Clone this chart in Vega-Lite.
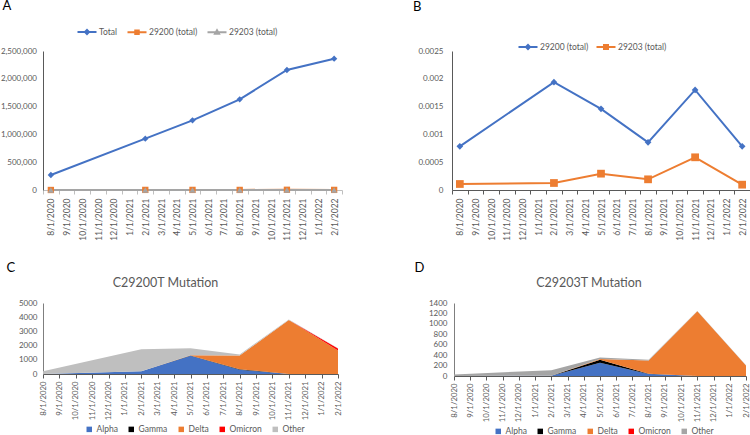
{
  "$schema": "https://vega.github.io/schema/vega-lite/v6.json",
  "padding": 0,
  "background": "white",
  "config": {
    "font": "Lato",
    "view": {"stroke": null},
    "axis": {"labelFont": "Lato", "labelFontSize": 8, "labelColor": "#595959", "domainColor": "#7f7f7f", "tickColor": "#7f7f7f", "grid": false, "title": null, "labelOverlap": false},
    "legend": {"labelFont": "Lato", "labelFontSize": 8.5, "labelColor": "#595959"},
    "title": {"font": "Lato", "fontWeight": "normal"}
  },
  "datasets": {
    "a": [
      {"d": "8/1/2020", "s": "Total", "v": 270000},
      {"d": "2/1/2021", "s": "Total", "v": 923000},
      {"d": "5/1/2021", "s": "Total", "v": 1253000},
      {"d": "8/1/2021", "s": "Total", "v": 1631000},
      {"d": "11/1/2021", "s": "Total", "v": 2158000},
      {"d": "2/1/2022", "s": "Total", "v": 2362000},
      {"d": "8/1/2020", "s": "29200 (total)", "v": 215},
      {"d": "2/1/2021", "s": "29200 (total)", "v": 1780},
      {"d": "5/1/2021", "s": "29200 (total)", "v": 1830},
      {"d": "8/1/2021", "s": "29200 (total)", "v": 1400},
      {"d": "11/1/2021", "s": "29200 (total)", "v": 3880},
      {"d": "2/1/2022", "s": "29200 (total)", "v": 1860},
      {"d": "8/1/2020", "s": "29203 (total)", "v": 30},
      {"d": "2/1/2021", "s": "29203 (total)", "v": 120},
      {"d": "5/1/2021", "s": "29203 (total)", "v": 360},
      {"d": "8/1/2021", "s": "29203 (total)", "v": 310},
      {"d": "11/1/2021", "s": "29203 (total)", "v": 1250},
      {"d": "2/1/2022", "s": "29203 (total)", "v": 230}
    ],
    "b": [
      {"d": "8/1/2020", "s": "29200 (total)", "v": 0.000785},
      {"d": "2/1/2021", "s": "29200 (total)", "v": 0.00194},
      {"d": "5/1/2021", "s": "29200 (total)", "v": 0.00146},
      {"d": "8/1/2021", "s": "29200 (total)", "v": 0.000857},
      {"d": "11/1/2021", "s": "29200 (total)", "v": 0.0018},
      {"d": "2/1/2022", "s": "29200 (total)", "v": 0.000785},
      {"d": "8/1/2020", "s": "29203 (total)", "v": 0.000108},
      {"d": "2/1/2021", "s": "29203 (total)", "v": 0.000126},
      {"d": "5/1/2021", "s": "29203 (total)", "v": 0.000294},
      {"d": "8/1/2021", "s": "29203 (total)", "v": 0.000192},
      {"d": "11/1/2021", "s": "29203 (total)", "v": 0.000588},
      {"d": "2/1/2022", "s": "29203 (total)", "v": 0.000096}
    ],
    "c": [
      {"d": "8/1/2020", "v": "Alpha", "n": 0},
      {"d": "8/1/2020", "v": "Gamma", "n": 0},
      {"d": "8/1/2020", "v": "Delta", "n": 0},
      {"d": "8/1/2020", "v": "Omicron", "n": 0},
      {"d": "8/1/2020", "v": "Other", "n": 200},
      {"d": "2/1/2021", "v": "Alpha", "n": 190},
      {"d": "2/1/2021", "v": "Gamma", "n": 0},
      {"d": "2/1/2021", "v": "Delta", "n": 0},
      {"d": "2/1/2021", "v": "Omicron", "n": 0},
      {"d": "2/1/2021", "v": "Other", "n": 1560},
      {"d": "5/1/2021", "v": "Alpha", "n": 1280},
      {"d": "5/1/2021", "v": "Gamma", "n": 20},
      {"d": "5/1/2021", "v": "Delta", "n": 20},
      {"d": "5/1/2021", "v": "Omicron", "n": 0},
      {"d": "5/1/2021", "v": "Other", "n": 500},
      {"d": "8/1/2021", "v": "Alpha", "n": 300},
      {"d": "8/1/2021", "v": "Gamma", "n": 40},
      {"d": "8/1/2021", "v": "Delta", "n": 960},
      {"d": "8/1/2021", "v": "Omicron", "n": 0},
      {"d": "8/1/2021", "v": "Other", "n": 70},
      {"d": "11/1/2021", "v": "Alpha", "n": 0},
      {"d": "11/1/2021", "v": "Gamma", "n": 0},
      {"d": "11/1/2021", "v": "Delta", "n": 3800},
      {"d": "11/1/2021", "v": "Omicron", "n": 0},
      {"d": "11/1/2021", "v": "Other", "n": 45},
      {"d": "2/1/2022", "v": "Alpha", "n": 0},
      {"d": "2/1/2022", "v": "Gamma", "n": 0},
      {"d": "2/1/2022", "v": "Delta", "n": 1650},
      {"d": "2/1/2022", "v": "Omicron", "n": 150},
      {"d": "2/1/2022", "v": "Other", "n": 20}
    ],
    "dd": [
      {"d": "8/1/2020", "v": "Alpha", "n": 0},
      {"d": "8/1/2020", "v": "Gamma", "n": 0},
      {"d": "8/1/2020", "v": "Delta", "n": 0},
      {"d": "8/1/2020", "v": "Omicron", "n": 0},
      {"d": "8/1/2020", "v": "Other", "n": 30},
      {"d": "2/1/2021", "v": "Alpha", "n": 5},
      {"d": "2/1/2021", "v": "Gamma", "n": 0},
      {"d": "2/1/2021", "v": "Delta", "n": 0},
      {"d": "2/1/2021", "v": "Omicron", "n": 0},
      {"d": "2/1/2021", "v": "Other", "n": 105},
      {"d": "5/1/2021", "v": "Alpha", "n": 255},
      {"d": "5/1/2021", "v": "Gamma", "n": 58},
      {"d": "5/1/2021", "v": "Delta", "n": 15},
      {"d": "5/1/2021", "v": "Omicron", "n": 0},
      {"d": "5/1/2021", "v": "Other", "n": 25},
      {"d": "8/1/2021", "v": "Alpha", "n": 40},
      {"d": "8/1/2021", "v": "Gamma", "n": 5},
      {"d": "8/1/2021", "v": "Delta", "n": 250},
      {"d": "8/1/2021", "v": "Omicron", "n": 0},
      {"d": "8/1/2021", "v": "Other", "n": 18},
      {"d": "11/1/2021", "v": "Alpha", "n": 0},
      {"d": "11/1/2021", "v": "Gamma", "n": 0},
      {"d": "11/1/2021", "v": "Delta", "n": 1240},
      {"d": "11/1/2021", "v": "Omicron", "n": 0},
      {"d": "11/1/2021", "v": "Other", "n": 5},
      {"d": "2/1/2022", "v": "Alpha", "n": 0},
      {"d": "2/1/2022", "v": "Gamma", "n": 0},
      {"d": "2/1/2022", "v": "Delta", "n": 200},
      {"d": "2/1/2022", "v": "Omicron", "n": 2},
      {"d": "2/1/2022", "v": "Other", "n": 5}
    ]
  },
  "resolve": {"scale": {"x": "independent", "y": "independent", "color": "independent", "shape": "independent"}, "legend": {"color": "independent", "shape": "independent"}, "axis": {"x": "independent", "y": "independent"}},
  "spacing": 20,
  "vconcat": [
    {
      "spacing": 68,
      "resolve": {"scale": {"x": "independent", "y": "independent", "color": "independent", "shape": "independent"}, "legend": {"color": "independent", "shape": "independent"}},
      "hconcat": [
        {
          "title": {"text": "A", "anchor": "start", "frame": "bounds", "fontSize": 13, "color": "black", "dx": 2, "offset": 13},
          "width": 299,
          "height": 139,
          "data": {"name": "a"},
          "transform": [{"calculate": "datum.s", "as": "s2"}],
          "resolve": {"scale": {"shape": "independent"}, "legend": {"shape": "independent", "color": "independent"}},
          "encoding": {
            "x": {"field": "d", "type": "ordinal", "bandPosition": 0.5,
              "scale": {"type": "band", "paddingInner": 0, "paddingOuter": 0, "domain": ["8/1/2020","9/1/2020","10/1/2020","11/1/2020","12/1/2020","1/1/2021","2/1/2021","3/1/2021","4/1/2021","5/1/2021","6/1/2021","7/1/2021","8/1/2021","9/1/2021","10/1/2021","11/1/2021","12/1/2021","1/1/2022","2/1/2022"]},
              "axis": {"labelAngle": 270, "tickBand": "extent", "tickSize": 4, "labelPadding": 4, "labelFontSize": 8.5, "domainColor": "#bfbfbf", "tickColor": "#bfbfbf"}},
            "y": {"field": "v", "type": "quantitative", "scale": {"domain": [0, 2500000]},
              "axis": {"values": [0, 500000, 1000000, 1500000, 2000000, 2500000], "format": ",d", "ticks": false, "labelPadding": 6.5, "labelFontSize": 8, "domainColor": "#595959"}}
          },
          "layer": [
            {"mark": {"type": "line", "strokeWidth": 2},
              "encoding": {"color": {"field": "s", "type": "nominal", "scale": {"domain": ["Total", "29200 (total)", "29203 (total)"], "range": ["#4472C4", "#ED7D31", "#A5A5A5"]}, "legend": null}}},
            {"mark": {"type": "point", "filled": true, "size": 40, "opacity": 1},
              "encoding": {
                "color": {"field": "s", "type": "nominal", "scale": {"domain": ["Total", "29200 (total)", "29203 (total)"], "range": ["#4472C4", "#ED7D31", "#A5A5A5"]}, "legend": null},
                "shape": {"field": "s2", "type": "nominal", "scale": {"domain": ["Total", "29200 (total)", "29203 (total)"], "range": ["diamond", "square", "triangle-up"]}, "legend": null}}},
            {"mark": {"type": "point", "filled": false, "opacity": 0, "size": 100},
              "encoding": {
                "color": {"field": "s", "type": "nominal", "scale": {"domain": ["Total", "29200 (total)", "29203 (total)"], "range": ["#4472C4", "#ED7D31", "#A5A5A5"]},
                  "legend": {"orient": "none", "legendX": 38, "legendY": -25, "direction": "horizontal", "title": null, "symbolSize": 100, "symbolOpacity": 1, "symbolStrokeWidth": 2, "labelOffset": 6, "columnPadding": 5}},
                "shape": {"field": "s", "type": "nominal",
                  "scale": {"domain": ["Total", "29200 (total)", "29203 (total)"], "range": ["M-1.9,0H1.9M-0.4,0L0,-0.4L0.4,0L0,0.4Z", "M-1.9,0H1.9M-0.35,-0.35H0.35V0.35H-0.35Z", "M-1.9,0H1.9M-0.4,0.3L0,-0.4L0.4,0.3Z"]},
                  "legend": {"orient": "none", "legendX": 38, "legendY": -25, "direction": "horizontal", "title": null, "symbolSize": 100, "symbolOpacity": 1, "symbolStrokeWidth": 2, "labelOffset": 6, "columnPadding": 5}}}}
          ]
        },
        {
          "title": {"text": "B", "anchor": "start", "frame": "bounds", "fontSize": 13, "color": "black", "dx": -5, "offset": 27},
          "width": 298,
          "height": 139,
          "data": {"name": "b"},
          "transform": [{"calculate": "datum.s", "as": "s2"}],
          "resolve": {"scale": {"shape": "independent", "size": "independent"}, "legend": {"shape": "independent", "color": "independent"}},
          "encoding": {
            "x": {"field": "d", "type": "ordinal", "bandPosition": 0.5,
              "scale": {"type": "band", "paddingInner": 0, "paddingOuter": 0, "domain": ["8/1/2020","9/1/2020","10/1/2020","11/1/2020","12/1/2020","1/1/2021","2/1/2021","3/1/2021","4/1/2021","5/1/2021","6/1/2021","7/1/2021","8/1/2021","9/1/2021","10/1/2021","11/1/2021","12/1/2021","1/1/2022","2/1/2022"]},
              "axis": {"labelAngle": 270, "tickBand": "extent", "tickSize": 4, "labelPadding": 4, "labelFontSize": 8.5, "domainColor": "#595959", "tickColor": "#595959"}},
            "y": {"field": "v", "type": "quantitative", "scale": {"domain": [0, 0.0025]},
              "axis": {"values": [0, 0.0005, 0.001, 0.0015, 0.002, 0.0025], "format": "~g", "ticks": false, "labelPadding": 9, "labelFontSize": 8, "domainColor": "#595959"}}
          },
          "layer": [
            {"mark": {"type": "line", "strokeWidth": 2},
              "encoding": {"color": {"field": "s", "type": "nominal", "scale": {"domain": ["29200 (total)", "29203 (total)"], "range": ["#4472C4", "#ED7D31"]}, "legend": null}}},
            {"mark": {"type": "point", "filled": true, "opacity": 1},
              "encoding": {
                "color": {"field": "s", "type": "nominal", "scale": {"domain": ["29200 (total)", "29203 (total)"], "range": ["#4472C4", "#ED7D31"]}, "legend": null},
                "shape": {"field": "s2", "type": "nominal", "scale": {"domain": ["29200 (total)", "29203 (total)"], "range": ["diamond", "square"]}, "legend": null},
                "size": {"field": "s2", "type": "nominal", "scale": {"domain": ["29200 (total)", "29203 (total)"], "range": [45, 60]}, "legend": null}}},
            {"mark": {"type": "point", "filled": false, "opacity": 0, "size": 100},
              "encoding": {
                "color": {"field": "s", "type": "nominal", "scale": {"domain": ["29200 (total)", "29203 (total)"], "range": ["#4472C4", "#ED7D31"]},
                  "legend": {"orient": "none", "legendX": 70, "legendY": -10, "direction": "horizontal", "title": null, "symbolSize": 100, "symbolOpacity": 1, "symbolStrokeWidth": 2, "labelOffset": 6, "columnPadding": 3}},
                "shape": {"field": "s", "type": "nominal",
                  "scale": {"domain": ["29200 (total)", "29203 (total)"], "range": ["M-1.9,0H1.9M-0.4,0L0,-0.4L0.4,0L0,0.4Z", "M-1.9,0H1.9M-0.4,-0.4H0.4V0.4H-0.4Z"]},
                  "legend": {"orient": "none", "legendX": 70, "legendY": -10, "direction": "horizontal", "title": null, "symbolSize": 100, "symbolOpacity": 1, "symbolStrokeWidth": 2, "labelOffset": 6, "columnPadding": 3}}}}
          ]
        }
      ]
    },
    {
      "spacing": 72,
      "resolve": {"scale": {"x": "independent", "y": "independent", "color": "independent"}, "legend": {"color": "independent"}},
      "hconcat": [
        {
          "title": {"text": "C", "anchor": "start", "frame": "bounds", "fontSize": 13, "color": "black", "dx": -12, "offset": 2},
          "vconcat": [
            {
              "title": {"text": "C29200T Mutation", "fontSize": 12.5, "color": "#595959", "dx": -25, "offset": 10},
              "width": 295,
              "height": 71,
              "data": {"name": "c"},
              "transform": [{"calculate": "indexof(['Alpha','Gamma','Delta','Omicron','Other'], datum.v)", "as": "o"}],
              "mark": {"type": "area", "interpolate": "linear"},
              "encoding": {
                "x": {"field": "d", "type": "ordinal",
                  "scale": {"type": "point", "padding": 0, "domain": ["8/1/2020","9/1/2020","10/1/2020","11/1/2020","12/1/2020","1/1/2021","2/1/2021","3/1/2021","4/1/2021","5/1/2021","6/1/2021","7/1/2021","8/1/2021","9/1/2021","10/1/2021","11/1/2021","12/1/2021","1/1/2022","2/1/2022"]},
                  "axis": {"labelAngle": 270, "tickSize": 4, "labelPadding": 3, "labelFontSize": 7.8, "domainColor": "#595959", "tickColor": "#595959"}},
                "y": {"field": "n", "type": "quantitative", "stack": "zero", "scale": {"domain": [0, 5000]},
                  "axis": {"values": [0, 1000, 2000, 3000, 4000, 5000], "format": "d", "ticks": false, "labelPadding": 6, "labelFontSize": 8, "domainColor": "#7f7f7f"}},
                "color": {"field": "v", "type": "nominal",
                  "scale": {"domain": ["Alpha", "Gamma", "Delta", "Omicron", "Other"], "range": ["#4472C4", "#000000", "#ED7D31", "#FF0000", "#BFBFBF"]},
                  "legend": {"orient": "none", "legendX": 42, "legendY": 122, "direction": "horizontal", "title": null, "symbolType": "square", "symbolSize": 30, "labelOffset": 3, "columnPadding": 9, "symbolStrokeWidth": 0}},
                "order": {"field": "o", "type": "quantitative"}
              }
            }
          ]
        },
        {
          "title": {"text": "D", "anchor": "start", "frame": "bounds", "fontSize": 13, "color": "black", "dx": -14, "offset": 2},
          "vconcat": [
            {
              "title": {"text": "C29203T Mutation", "fontSize": 12.5, "color": "#595959", "dx": -11, "offset": 10},
              "width": 292,
              "height": 73,
              "data": {"name": "dd"},
              "transform": [{"calculate": "indexof(['Alpha','Gamma','Delta','Omicron','Other'], datum.v)", "as": "o"}],
              "mark": {"type": "area", "interpolate": "linear"},
              "encoding": {
                "x": {"field": "d", "type": "ordinal",
                  "scale": {"type": "point", "padding": 0, "domain": ["8/1/2020","9/1/2020","10/1/2020","11/1/2020","12/1/2020","1/1/2021","2/1/2021","3/1/2021","4/1/2021","5/1/2021","6/1/2021","7/1/2021","8/1/2021","9/1/2021","10/1/2021","11/1/2021","12/1/2021","1/1/2022","2/1/2022"]},
                  "axis": {"labelAngle": 270, "tickSize": 4, "labelPadding": 3, "labelFontSize": 7.8, "domainColor": "#595959", "tickColor": "#595959"}},
                "y": {"field": "n", "type": "quantitative", "stack": "zero", "scale": {"domain": [0, 1400]},
                  "axis": {"values": [0, 200, 400, 600, 800, 1000, 1200, 1400], "format": "d", "ticks": false, "labelPadding": 7, "labelFontSize": 8, "domainColor": "#7f7f7f"}},
                "color": {"field": "v", "type": "nominal",
                  "scale": {"domain": ["Alpha", "Gamma", "Delta", "Omicron", "Other"], "range": ["#4472C4", "#000000", "#ED7D31", "#FF0000", "#A5A5A5"]},
                  "legend": {"orient": "none", "legendX": 40, "legendY": 124, "direction": "horizontal", "title": null, "symbolType": "square", "symbolSize": 30, "labelOffset": 3, "columnPadding": 9, "symbolStrokeWidth": 0}},
                "order": {"field": "o", "type": "quantitative"}
              }
            }
          ]
        }
      ]
    }
  ]
}
